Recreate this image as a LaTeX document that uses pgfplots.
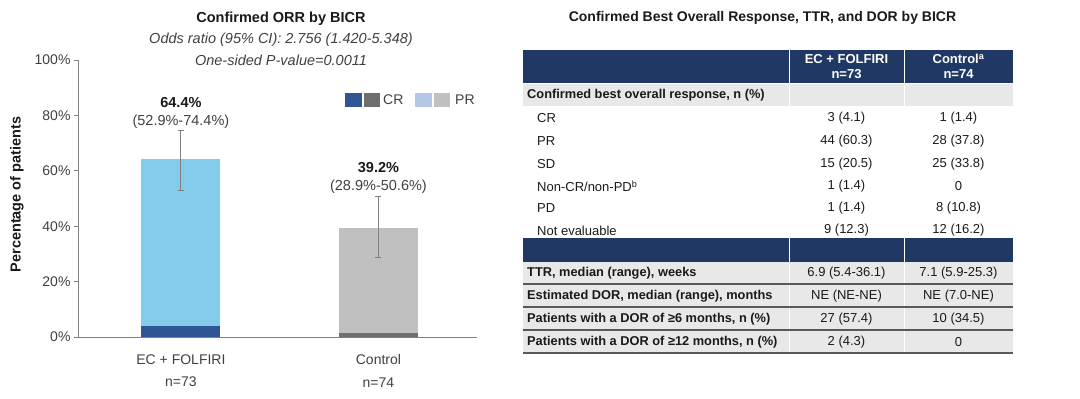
\documentclass[border=0pt]{standalone}
\usepackage{fontspec}
\setmainfont{Liberation Sans}
\usepackage{pgfplots}
\pgfplotsset{compat=1.18}
\definecolor{crblue}{HTML}{2F5597}
\definecolor{prblue}{HTML}{83CBEB}
\definecolor{legblue}{HTML}{B4C7E7}
\definecolor{crgray}{HTML}{6E6E6E}
\definecolor{prgray}{HTML}{C0C0C0}
\definecolor{navy}{HTML}{203864}
\definecolor{rowgray}{HTML}{E8E8E8}
\definecolor{axisgray}{HTML}{808080}
\definecolor{txt}{HTML}{404040}
\definecolor{tab}{HTML}{1A1A1A}
\newcommand{\fs}[1]{\fontsize{#1}{#1}\selectfont}
\begin{document}
\begin{tikzpicture}
\useasboundingbox (0,0) rectangle (1080pt,-399pt);
\begin{axis}[
  at={(79pt,-337pt)}, anchor=south west,
  width=398pt, height=277pt, scale only axis,
  xmin=-0.516, xmax=1.499, ymin=0, ymax=100,
  axis x line*=bottom, axis y line*=left,
  axis line style={draw=axisgray, line width=1pt},
  ytick={0,20,40,60,80,100},
  yticklabel={\pgfmathprintnumber{\tick}\%},
  xtick={0,1},
  xticklabels={{EC + FOLFIRI\\[8.5pt]n=73},{Control\\[8.5pt]n=74}},
  xticklabel style={align=center, font=\fs{14}, text=txt, yshift=-9pt},
  yticklabel style={font=\fs{14}, text=txt},
  /pgf/number format/assume math mode=true,
  major x tick style={draw=none},
  major y tick style={draw=axisgray, line width=1pt},
  tick align=outside, major tick length=5pt,
  ybar, bar width=79pt, bar shift=0pt,
  clip=false,
]
\addplot[fill=prblue, draw=none,
  error bars/.cd, y dir=both, y explicit,
  error bar style={axisgray, line width=0.9pt},
  error mark options={axisgray, mark size=3pt, line width=0.9pt, rotate=90}]
  coordinates {(0,64.4) += (0,10.0) -= (0,11.5)};
\addplot[fill=prgray, draw=none,
  error bars/.cd, y dir=both, y explicit,
  error bar style={axisgray, line width=0.9pt},
  error mark options={axisgray, mark size=3pt, line width=0.9pt, rotate=90}]
  coordinates {(1,39.2) += (0,11.4) -= (0,10.3)};
\addplot[fill=crblue, draw=none] coordinates {(0,4.1)};
\addplot[fill=crgray, draw=none] coordinates {(1,1.4)};
\node[font=\bfseries\fs{14.5}, text=tab] at (axis cs:0,84.6) {64.4\%};
\node[font=\fs{14.5}, text=txt] at (axis cs:0,77.7) {(52.9\%-74.4\%)};
\node[font=\bfseries\fs{14.5}, text=tab] at (axis cs:1,61.1) {39.2\%};
\node[font=\fs{14.5}, text=txt] at (axis cs:1,54.2) {(28.9\%-50.6\%)};
\end{axis}
\begin{scope}[x=1pt,y=-1pt]
% left titles
\node[font=\bfseries\fs{14.5}, text=tab] at (281,19) {Confirmed ORR by BICR};
\node[font=\itshape\fs{14.5}, text=txt] at (281,39.5) {Odds ratio (95\% CI): 2.756 (1.420-5.348)};
\node[font=\itshape\fs{14.5}, text=txt] at (281,60) {One-sided P-value=0.0011};
\node[font=\bfseries\fs{14.5}, text=tab, rotate=90] at (17,194.5) {Percentage of patients};
% legend
\fill[crblue] (345,93) rectangle (362,107);
\fill[crgray] (364,93) rectangle (380,107);
\node[font=\fs{14}, text=txt, anchor=west, inner sep=0pt] at (383,100) {CR};
\fill[legblue] (415,93) rectangle (432,107);
\fill[prgray] (434,93) rectangle (450,107);
\node[font=\fs{14}, text=txt, anchor=west, inner sep=0pt] at (455,100) {PR};
% table
\node[font=\bfseries\fs{14}, text=tab] at (762.5,18) {Confirmed Best Overall Response, TTR, and DOR by BICR};
\fill[navy] (523,49.5) rectangle (1013,83);
\fill[rowgray] (523,83) rectangle (1013,106);
\fill[navy] (523,238) rectangle (1013,262);
\fill[rowgray] (523,262) rectangle (1013,353);
\draw[white, line width=1pt] (789,49.5) -- (789,106) (904,49.5) -- (904,106);
\draw[white, line width=1pt] (789,238) -- (789,353) (904,238) -- (904,353);
\draw[white, line width=0.8pt] (523,83) -- (1013,83);
\draw[black!65, line width=1.3pt] (523,284) -- (1013,284) (523,307) -- (1013,307) (523,330) -- (1013,330);
\draw[black!65, line width=2pt] (523,353) -- (1013,353);
\node[font=\bfseries\fs{13}, text=white, align=center] at (846.5,66.5) {EC + FOLFIRI\\[1.5pt]n=73};
\node[font=\bfseries\fs{13}, text=white, align=center] at (958.5,66.5) {Control\textsuperscript{a}\\[1.5pt]n=74};
\tikzset{lb/.style={font=\bfseries\fs{12.8}, text=tab, anchor=west, inner sep=0pt},
         li/.style={font=\fs{13}, text=tab, anchor=west, inner sep=0pt},
         va/.style={font=\fs{13}, text=tab, inner sep=0pt}}
\node[lb] at (527,95) {Confirmed best overall response, n (\%)};
\node[li] at (537,118) {CR};
\node[va] at (846.5,118) {3 (4.1)};
\node[va] at (958.5,118) {1 (1.4)};
\node[li] at (537,141) {PR};
\node[va] at (846.5,141) {44 (60.3)};
\node[va] at (958.5,141) {28 (37.8)};
\node[li] at (537,164) {SD};
\node[va] at (846.5,164) {15 (20.5)};
\node[va] at (958.5,164) {25 (33.8)};
\node[li] at (537,186.5) {Non-CR/non-PD\textsuperscript{b}};
\node[va] at (846.5,186.5) {1 (1.4)};
\node[va] at (958.5,186.5) {0};
\node[li] at (537,208.5) {PD};
\node[va] at (846.5,208.5) {1 (1.4)};
\node[va] at (958.5,208.5) {8 (10.8)};
\node[li] at (537,230.5) {Not evaluable};
\node[va] at (846.5,230.5) {9 (12.3)};
\node[va] at (958.5,230.5) {12 (16.2)};
\node[lb] at (527,273) {TTR, median (range), weeks};
\node[va] at (846.5,273) {6.9 (5.4-36.1)};
\node[va] at (958.5,273) {7.1 (5.9-25.3)};
\node[lb] at (527,296.5) {Estimated DOR, median (range), months};
\node[va] at (846.5,296.5) {NE (NE-NE)};
\node[va] at (958.5,296.5) {NE (7.0-NE)};
\node[lb] at (527,319.5) {Patients with a DOR of ≥6 months, n (\%)};
\node[va] at (846.5,319.5) {27 (57.4)};
\node[va] at (958.5,319.5) {10 (34.5)};
\node[lb] at (527,342.5) {Patients with a DOR of ≥12 months, n (\%)};
\node[va] at (846.5,342.5) {2 (4.3)};
\node[va] at (958.5,342.5) {0};
\end{scope}
\end{tikzpicture}
\end{document}
